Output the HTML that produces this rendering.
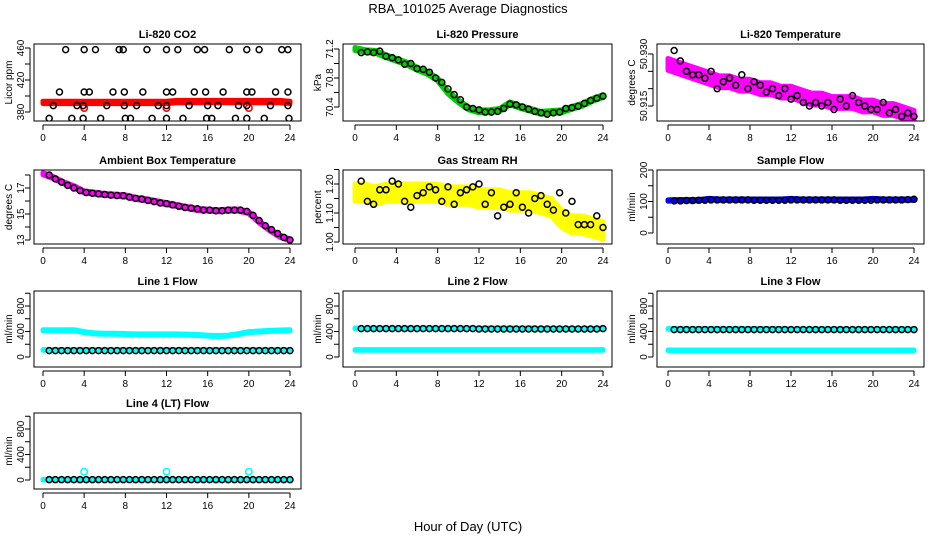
<!DOCTYPE html>
<html><head><meta charset="utf-8">
<style>
html,body{margin:0;padding:0;background:#fff;}
svg{display:block;font-family:"Liberation Sans",sans-serif;}
</style></head>
<body>
<svg id="chart" width="936" height="540" viewBox="0 0 936 540" xmlns="http://www.w3.org/2000/svg">
<text x="468" y="13" font-size="13" text-anchor="middle">RBA_101025  Average Diagnostics</text>
<text x="468" y="531" font-size="13" text-anchor="middle">Hour of Day (UTC)</text>
</svg>
<script>
// ---- data ----
const bandHours = [0,1,2,3,4,5,6,7,8,9,10,11,12,13,14,15,16,17,18,19,20,21,22,23,24];
const blackHours = [0.6,1.2,1.8,2.4,3.0,3.6,4.2,4.8,5.4,6.0,6.6,7.2,7.8,8.4,9.0,9.6,10.2,10.8,11.4,12.0,12.6,13.2,13.8,14.4,15.0,15.6,16.2,16.8,17.4,18.0,18.6,19.2,19.8,20.4,21.0,21.6,22.2,22.8,23.4,24.0];
const xTicks = [0,4,8,12,16,20,24];

const co2Band = [392,392,392,392,392,392,392,392,392,392,392,392,392,393,393,393,393,393,393,393,393,393,393,393,392];
const co2Hours = [2.2,4,5.1,7.4,7.8,10.1,12,13.1,15,15.7,18.1,19.8,21,23.2,23.8,1.6,4,4.5,6.8,7.9,9.7,12,12.6,14.7,15.8,17.5,19.8,20.3,22.6,23.8,1,3.3,3.9,6.2,7.9,9.1,11.2,12,14.2,16,17,19,19.8,22.1,23.8,0.6,2.8,3.9,5.6,8,8.5,10.6,12,13.6,15.9,16.4,18.7,19.8,21.5,23.9];
const co2Vals = [458,458,458,458,458,458,458,458,458,458,458,458,458,458,458,405,405,405,405,405,405,405,405,405,405,405,405,405,405,405,388,388,388,388,388,388,388,388,388,388,388,388,388,388,388,372,372,372,372,372,372,372,372,372,372,372,372,372,372,372];

const presBand = [71.2,71.17,71.16,71.1,71.05,71.0,70.93,70.87,70.78,70.6,70.48,70.38,70.34,70.34,70.36,70.45,70.4,70.36,70.32,70.33,70.34,70.39,70.43,70.5,70.55];
const presBlack = [71.15,71.16,71.15,71.17,71.1,71.08,71.05,70.99,71.0,70.93,70.92,70.88,70.8,70.74,70.65,70.57,70.5,70.4,70.38,70.36,70.33,70.33,70.34,70.38,70.44,70.43,70.4,70.37,70.34,70.32,70.3,70.32,70.33,70.38,70.39,70.41,70.45,70.49,70.52,70.55];

const tempBand = [50.927,50.926,50.925,50.924,50.923,50.922,50.922,50.921,50.921,50.920,50.920,50.919,50.919,50.918,50.917,50.917,50.916,50.916,50.916,50.915,50.915,50.914,50.914,50.913,50.912];
const tempBlack = [50.931,50.928,50.925,50.924,50.924,50.923,50.925,50.920,50.922,50.923,50.921,50.924,50.920,50.922,50.921,50.919,50.920,50.918,50.920,50.917,50.918,50.916,50.915,50.916,50.915,50.916,50.914,50.917,50.915,50.918,50.916,50.915,50.914,50.914,50.916,50.913,50.914,50.912,50.913,50.912];

const ambBand = [18.1,17.8,17.4,17.1,16.7,16.6,16.5,16.45,16.4,16.2,16.1,15.95,15.8,15.65,15.5,15.35,15.3,15.25,15.3,15.3,15.1,14.4,13.8,13.3,13.0];
const ambBlack = [18.0,17.7,17.45,17.2,17.0,16.8,16.65,16.6,16.55,16.5,16.45,16.42,16.4,16.3,16.2,16.15,16.05,15.95,15.85,15.8,15.7,15.6,15.5,15.45,15.4,15.3,15.3,15.25,15.25,15.3,15.3,15.3,15.2,14.9,14.5,14.1,13.8,13.5,13.2,13.0];

const rhBand = [1.17,1.17,1.16,1.17,1.17,1.17,1.17,1.17,1.17,1.16,1.16,1.16,1.15,1.15,1.15,1.14,1.14,1.14,1.13,1.12,1.08,1.06,1.06,1.05,1.04];
const rhBlack = [1.21,1.14,1.13,1.18,1.18,1.21,1.2,1.14,1.12,1.16,1.17,1.19,1.18,1.14,1.19,1.13,1.17,1.18,1.19,1.2,1.13,1.17,1.09,1.12,1.13,1.17,1.12,1.1,1.15,1.16,1.13,1.11,1.17,1.1,1.14,1.06,1.06,1.06,1.09,1.05];

const sampBand = [103,104,104,104,108,106,106,106,106,106,106,106,108,106,106,106,106,106,106,106,108,106,106,106,106];
const sampBlack = [102,102,103,103,104,104,105,105,105,105,105,105,105,104,104,104,104,104,104,105,105,105,105,105,105,105,105,104,104,104,104,104,104,105,105,105,105,105,106,107];

const l1High = [420,420,420,420,390,370,365,365,360,355,355,355,355,355,350,345,335,330,335,360,390,400,410,415,420];
const l1Low = [110,110,110,110,110,110,110,110,110,110,110,110,110,110,110,110,110,110,110,110,110,110,110,110,110];
const l1Black = [100,100,100,100,100,100,100,100,100,100,100,100,100,100,100,100,100,100,100,100,100,100,100,100,100,100,100,100,100,100,100,100,100,100,100,100,100,100,100,100];

const l2High = [450,450,450,450,450,450,450,450,450,450,450,450,450,450,450,450,450,450,445,445,445,445,445,445,450];
const l2Low = [110,110,110,110,110,110,110,110,110,110,110,110,110,110,110,110,110,110,110,110,110,110,110,110,110];
const l2Black = [445,445,445,445,445,445,445,445,445,445,445,445,445,445,445,445,445,445,445,440,440,440,440,440,440,440,440,440,440,440,440,440,440,440,440,440,440,440,440,445];

const l3High = [440,440,440,440,440,440,440,440,440,440,440,440,435,435,435,435,435,435,435,435,435,435,435,435,435];
const l3Low = [105,105,105,105,105,105,105,105,105,105,105,105,105,105,105,105,105,105,105,105,105,105,105,105,105];
const l3Black = [430,430,430,430,430,430,430,430,430,430,430,430,430,430,430,430,430,430,430,430,430,430,430,430,430,430,430,430,430,430,430,430,430,430,430,430,430,430,430,430];

const l4Band = [5,5,5,5,5,5,5,5,5,5,5,5,5,5,5,5,5,5,5,5,5,5,5,5,5];
const l4OutHours = [4,12,20];
const l4OutVals = [130,130,130];
const l4Black = [5,5,5,5,5,5,5,5,5,5,5,5,5,5,5,5,5,5,5,5,5,5,5,5,5,5,5,5,5,5,5,5,5,5,5,5,5,5,5,5];
const co2OutHours = [4,12,20];
const co2OutVals = [385,385,385];

// ---- rendering ----
const svg = document.getElementById('chart');
const NS = 'http://www.w3.org/2000/svg';
function mk(tag, attrs, parent){
  const e = document.createElementNS(NS, tag);
  for (const k in attrs) e.setAttribute(k, attrs[k]);
  (parent||svg).appendChild(e);
  return e;
}
const cols = [{l:34,r:301,x0:43,x24:290},{l:343,r:612,x0:355,x24:603},{l:657,r:924,x0:668,x24:914}];
const rows = [{t:44,b:121},{t:170,b:244},{t:291,b:367},{t:413,b:489}];

function panel(cfg){
  const c = cols[cfg.col], r = rows[cfg.row];
  const g = mk('g', {});
  
  
  const xs = h => c.x0 + (c.x24 - c.x0) * h / 24;
  const ys = v => cfg.p1 + (cfg.p2 - cfg.p1) * (v - cfg.v1) / (cfg.v2 - cfg.v1);
  const cp = 'clip-' + cfg.name;
  const cl = mk('clipPath', {id: cp}, g);
  mk('rect', {x:c.l, y:r.t, width:c.r-c.l, height:r.b-r.t}, cl);
  const plot = mk('g', {'clip-path':'url(#'+cp+')'}, g);
  (cfg.bands||[]).forEach((b, bi) => {
    let up = bandHours.map((h,i)=>xs(h)+','+ys(b.vals[i]+b.spread)).join(' ');
    let dn = bandHours.slice().reverse().map((h,j)=>{const i=bandHours.length-1-j;return xs(h)+','+ys(b.vals[i]-b.spread);}).join(' ');
    const poly = mk('polygon', {points: up+' '+dn, fill:b.color, stroke:b.color, 'stroke-width':5, 'stroke-linejoin':'round'}, plot);
    
    
  });
  (cfg.colorPts||[]).forEach(p => {
    p.hours.forEach((h,i)=>{
      const cc = mk('circle', {cx:xs(h), cy:ys(p.vals[i]), r:3.2, fill:'none', stroke:p.color, 'stroke-width':1.6}, plot);
      
      
    });
  });
  const bh = cfg.blackHours || blackHours;
  bh.forEach((h,i)=>{
    const cc = mk('circle', {cx:xs(h), cy:ys(cfg.black[i]), r:3, fill:'none', stroke:'#000', 'stroke-width':1.5}, plot);
    
    
  });
  mk('rect', {x:c.l, y:r.t, width:c.r-c.l, height:r.b-r.t, fill:'none', stroke:'#000', 'stroke-width':1}, g);
  const tt = mk('text', {x:(c.l+c.r)/2, y:r.t-6, 'font-size':11, 'font-weight':'bold', 'text-anchor':'middle'}, g);
  tt.textContent = cfg.title;
  
  
  // x axis
  mk('line', {x1:xs(0), x2:xs(24), y1:r.b+4, y2:r.b+4, stroke:'#000'}, g);
  xTicks.forEach(t=>{
    mk('line', {x1:xs(t), x2:xs(t), y1:r.b+4, y2:r.b+9, stroke:'#000'}, g);
    const tx = mk('text', {x:xs(t), y:r.b+20, 'font-size':10, 'text-anchor':'middle'}, g);
    tx.textContent = t;
    
    
  });
  // y axis
  const yl = c.l - 4;
  mk('line', {x1:yl, x2:yl, y1:ys(cfg.yTicks[0]), y2:ys(cfg.yTicks[cfg.yTicks.length-1]), stroke:'#000'}, g);
  cfg.yTicks.forEach(t=> mk('line', {x1:yl-5, x2:yl, y1:ys(t), y2:ys(t), stroke:'#000'}, g));
  const tlx = c.l - 10;
  cfg.yLabels.forEach((t,i)=>{
    const y = ys(cfg.yLabelVals[i]);
    const tx = mk('text', {x:tlx, y:y, 'font-size':10, 'text-anchor':'middle', transform:'rotate(-90 '+tlx+' '+y+')'}, g);
    tx.textContent = t;
    
    
  });
  const my = (r.t + r.b)/2;
  const lx = c.l - 22;
  const lt = mk('text', {x:lx, y:my, 'font-size':10, 'text-anchor':'middle', transform:'rotate(-90 '+lx+' '+my+')'}, g);
  lt.textContent = cfg.ylab;
  
  
}

panel({name:'co2-panel', col:0,row:0,title:'Li-820 CO2', ylab:'Licor ppm', v1:460,p1:48,v2:380,p2:112,
  yTicks:[380,400,420,440,460], yLabels:['380','420','460'], yLabelVals:[380,420,460],
  bands:[{vals:co2Band, spread:1.5, color:'#ff0000'}], colorPts:[{hours:co2OutHours, vals:co2OutVals, color:'#ff0000'}],
  black:co2Vals, blackHours:co2Hours});
panel({name:'pressure-panel', col:1,row:0,title:'Li-820 Pressure', ylab:'kPa', v1:71.2,p1:49,v2:70.4,p2:107,
  yTicks:[70.4,70.6,70.8,71.0,71.2], yLabels:['70.4','70.8','71.2'], yLabelVals:[70.4,70.8,71.2],
  bands:[{vals:presBand, spread:0.02, color:'#00cc00'}], black:presBlack});
panel({name:'temperature-panel', col:2,row:0,title:'Li-820 Temperature', ylab:'degrees C', v1:50.930,p1:54,v2:50.915,p2:106,
  yTicks:[50.915,50.920,50.925,50.930], yLabels:['50.915','50.930'], yLabelVals:[50.915,50.930],
  bands:[{vals:tempBand, spread:0.0017, color:'#ff00ff'}], black:tempBlack});
panel({name:'ambient-panel', col:0,row:1,title:'Ambient Box Temperature', ylab:'degrees C', v1:17,p1:188,v2:13,p2:240,
  yTicks:[13,14,15,16,17,18], yLabels:['13','15','17'], yLabelVals:[13,15,17],
  bands:[{vals:ambBand, spread:0.08, color:'#ff00ff'}], black:ambBlack});
panel({name:'rh-panel', col:1,row:1,title:'Gas Stream RH', ylab:'percent', v1:1.20,p1:184,v2:1.00,p2:242,
  yTicks:[1.00,1.05,1.10,1.15,1.20,1.25], yLabels:['1.00','1.10','1.20'], yLabelVals:[1.00,1.10,1.20],
  bands:[{vals:rhBand, spread:0.03, color:'#ffff00'}], black:rhBlack});
panel({name:'sample-flow-panel', col:2,row:1,title:'Sample Flow', ylab:'ml/min', v1:200,p1:170,v2:0,p2:233,
  yTicks:[0,50,100,150,200], yLabels:['0','100','200'], yLabelVals:[0,100,200],
  bands:[{vals:sampBand, spread:2, color:'#0000ff'}], black:sampBlack});
panel({name:'line1-panel', col:0,row:2,title:'Line 1 Flow', ylab:'ml/min', v1:800,p1:306,v2:0,p2:357,
  yTicks:[0,200,400,600,800,1000], yLabels:['0','400','800'], yLabelVals:[0,400,800],
  bands:[{vals:l1High, spread:8, color:'#00ffff'},{vals:l1Low, spread:5, color:'#00ffff'}], black:l1Black});
panel({name:'line2-panel', col:1,row:2,title:'Line 2 Flow', ylab:'ml/min', v1:800,p1:306,v2:0,p2:357,
  yTicks:[0,200,400,600,800,1000], yLabels:['0','400','800'], yLabelVals:[0,400,800],
  bands:[{vals:l2High, spread:5, color:'#00ffff'},{vals:l2Low, spread:5, color:'#00ffff'}], black:l2Black});
panel({name:'line3-panel', col:2,row:2,title:'Line 3 Flow', ylab:'ml/min', v1:800,p1:306,v2:0,p2:357,
  yTicks:[0,200,400,600,800,1000], yLabels:['0','400','800'], yLabelVals:[0,400,800],
  bands:[{vals:l3High, spread:5, color:'#00ffff'},{vals:l3Low, spread:5, color:'#00ffff'}], black:l3Black});
panel({name:'line4-panel', col:0,row:3,title:'Line 4 (LT) Flow', ylab:'ml/min', v1:800,p1:429,v2:0,p2:480,
  yTicks:[0,200,400,600,800,1000], yLabels:['0','400','800'], yLabelVals:[0,400,800],
  bands:[{vals:l4Band, spread:4, color:'#00ffff'}], colorPts:[{hours:l4OutHours, vals:l4OutVals, color:'#00ffff'}], black:l4Black});
</script>
</body></html>
